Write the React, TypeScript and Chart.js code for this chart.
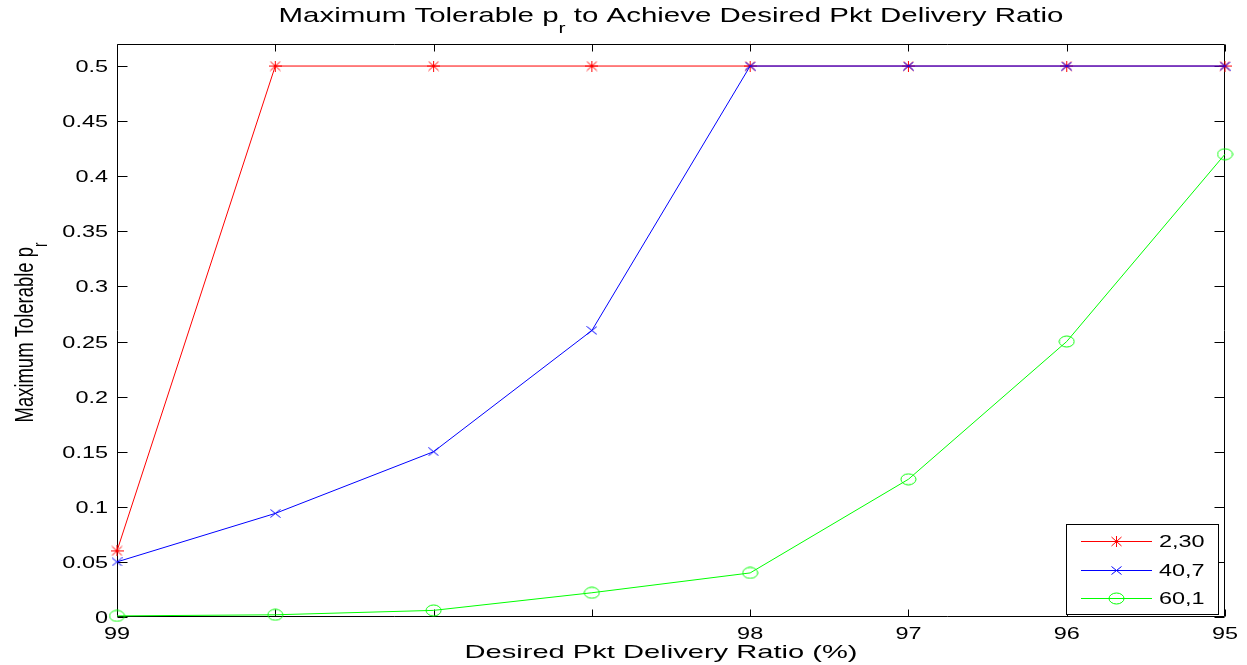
import React, { useEffect, useRef } from 'react';
import { Chart, registerables } from 'chart.js';
Chart.register(...registerables);

// ---- data ----
const xTickLabels = ['99', '', '', '', '98', '97', '96', '95'];
const seriesNames = ['2,30', '40,7', '60,1'];
const series230 = [0.06, 0.5, 0.5, 0.5, 0.5, 0.5, 0.5, 0.5];
const series407 = [0.05, 0.094, 0.15, 0.26, 0.5, 0.5, 0.5, 0.5];
const series601 = [0.001, 0.002, 0.006, 0.022, 0.04, 0.125, 0.25, 0.42];
const yTickValues = [0, 0.05, 0.1, 0.15, 0.2, 0.25, 0.3, 0.35, 0.4, 0.45, 0.5];
const yTickLabels = ['0', '0.05', '0.1', '0.15', '0.2', '0.25', '0.3', '0.35', '0.4', '0.45', '0.5'];
const yMin = 0;
const yMax = 0.52;
const titleMain = 'Maximum Tolerable p';
const titleSub = 'r';
const titleRest = ' to Achieve Desired Pkt Delivery Ratio';
const xTitle = 'Desired Pkt Delivery Ratio (%)';
const yTitleMain = 'Maximum Tolerable p';
const yTitleSub = 'r';

const FONT = '"Liberation Sans", Arial, Helvetica, sans-serif';
const STRETCH = 1.38;

function makeMarker(kind: string, color: string): HTMLCanvasElement {
  const c = document.createElement('canvas');
  const ctx = c.getContext('2d')!;
  if (kind === 'star') {
    c.width = 13; c.height = 11;
    ctx.strokeStyle = color; ctx.lineWidth = 1;
    ctx.beginPath();
    ctx.moveTo(0, 5.5); ctx.lineTo(13, 5.5);
    ctx.moveTo(6.5, 0); ctx.lineTo(6.5, 11);
    ctx.moveTo(1.5, 1); ctx.lineTo(11.5, 10);
    ctx.moveTo(1.5, 10); ctx.lineTo(11.5, 1);
    ctx.stroke();
  } else if (kind === 'x') {
    c.width = 11; c.height = 9;
    ctx.strokeStyle = color; ctx.lineWidth = 1;
    ctx.beginPath();
    ctx.moveTo(0.5, 0.5); ctx.lineTo(10.5, 8.5);
    ctx.moveTo(0.5, 8.5); ctx.lineTo(10.5, 0.5);
    ctx.stroke();
  } else {
    c.width = 17; c.height = 13;
    ctx.strokeStyle = color; ctx.lineWidth = 1;
    ctx.beginPath();
    ctx.ellipse(8.5, 6.5, 7.5, 5.5, 0, 0, Math.PI * 2);
    ctx.stroke();
  }
  return c;
}

type Run = { text: string; size: number; dy: number };

function runsWidth(ctx: CanvasRenderingContext2D, runs: Run[]) {
  let w = 0;
  for (const r of runs) {
    ctx.font = `${r.size}px ${FONT}`;
    w += ctx.measureText(r.text).width;
  }
  return w;
}

function drawRuns(ctx: CanvasRenderingContext2D, runs: Run[], startX: number) {
  let x = startX;
  for (const r of runs) {
    ctx.font = `${r.size}px ${FONT}`;
    ctx.fillText(r.text, x, r.dy);
    x += ctx.measureText(r.text).width;
  }
}

function drawStretched(ctx: CanvasRenderingContext2D, text: string, x: number, y: number, size: number, sx: number, align: CanvasTextAlign) {
  ctx.save();
  ctx.translate(x, y);
  ctx.scale(sx, 1);
  ctx.font = `${size}px ${FONT}`;
  ctx.textAlign = align;
  ctx.textBaseline = 'alphabetic';
  ctx.fillText(text, 0, 0);
  ctx.restore();
}

const matlabPlugin = {
  id: 'matlabAxes',
  beforeDatasetsDraw(chart: any) {
    const ctx: CanvasRenderingContext2D = chart.ctx;
    const a = chart.chartArea;
    const xs = chart.scales.x;
    const ys = chart.scales.y;
    ctx.save();
    ctx.strokeStyle = '#000';
    ctx.lineWidth = 1;
    const L = Math.round(a.left) + 0.5, R = Math.round(a.right) - 0.5;
    const T = Math.round(a.top) + 0.5, B = Math.round(a.bottom) - 0.5;
    ctx.beginPath();
    ctx.rect(L, T, R - L, B - T);
    for (let i = 0; i < xTickLabels.length; i++) {
      const px = Math.round(xs.getPixelForValue(i)) + 0.5;
      ctx.moveTo(px, B); ctx.lineTo(px, B - 7);
      ctx.moveTo(px, T); ctx.lineTo(px, T + 7);
    }
    for (const v of yTickValues) {
      const py = Math.round(ys.getPixelForValue(v)) + 0.5;
      ctx.moveTo(L, py); ctx.lineTo(L + 10, py);
      ctx.moveTo(R, py); ctx.lineTo(R - 10, py);
    }
    ctx.stroke();
    ctx.restore();
  },
  afterDraw(chart: any) {
    const ctx: CanvasRenderingContext2D = chart.ctx;
    const a = chart.chartArea;
    const xs = chart.scales.x;
    const ys = chart.scales.y;
    ctx.save();
    ctx.fillStyle = '#000';
    // x tick labels
    xTickLabels.forEach((lab, i) => {
      if (!lab) return;
      drawStretched(ctx, lab, xs.getPixelForValue(i), a.bottom + 22, 17, STRETCH, 'center');
    });
    // y tick labels
    yTickValues.forEach((v, i) => {
      drawStretched(ctx, yTickLabels[i], a.left - 9, ys.getPixelForValue(v) + 6, 17, STRETCH, 'right');
    });
    // title
    const cx = (a.left + a.right) / 2;
    const tRuns: Run[] = [
      { text: titleMain, size: 21, dy: 0 },
      { text: titleSub, size: 15, dy: 11 },
      { text: titleRest, size: 21, dy: 0 },
    ];
    const tw = runsWidth(ctx, tRuns);
    const tTarget = 785;
    ctx.save();
    ctx.translate(cx - tTarget / 2, 22);
    ctx.scale(tTarget / tw, 1);
    ctx.textAlign = 'left';
    ctx.textBaseline = 'alphabetic';
    drawRuns(ctx, tRuns, 0);
    ctx.restore();
    // x title
    ctx.font = `19px ${FONT}`;
    const xw = ctx.measureText(xTitle).width;
    drawStretched(ctx, xTitle, cx - 10, 658, 19, 393 / xw, 'center');
    // y title
    const yRuns: Run[] = [
      { text: yTitleMain, size: 19, dy: 0 },
      { text: yTitleSub, size: 14, dy: 10 },
    ];
    const yw = runsWidth(ctx, yRuns);
    const yLen = 180;
    const cy = (a.top + a.bottom) / 2 + 2;
    ctx.save();
    ctx.translate(33, cy);
    ctx.rotate(-Math.PI / 2);
    ctx.scale(yLen / yw, 1.4);
    ctx.textAlign = 'left';
    ctx.textBaseline = 'alphabetic';
    drawRuns(ctx, yRuns, -yw / 2);
    ctx.restore();
    // legend
    const bw = 152, bh = 90;
    const bx = Math.round(a.right) - 7 - bw, by = Math.round(a.bottom) - 3 - bh;
    ctx.fillStyle = '#fff';
    ctx.fillRect(bx, by, bw, bh);
    ctx.strokeStyle = '#000';
    ctx.lineWidth = 1;
    ctx.strokeRect(bx + 0.5, by + 0.5, bw, bh);
    chart.data.datasets.forEach((ds: any, i: number) => {
      const ry = by + 17 + i * 28.5;
      const ly = Math.round(ry) + 0.5;
      ctx.strokeStyle = ds.borderColor;
      ctx.beginPath();
      ctx.moveTo(bx + 15, ly); ctx.lineTo(bx + 86, ly);
      ctx.stroke();
      const img = ds.pointStyle as HTMLCanvasElement;
      ctx.drawImage(img, Math.round(bx + 50.5 - img.width / 2), Math.round(ly - img.height / 2));
      ctx.fillStyle = '#000';
      drawStretched(ctx, ds.label, bx + 93, ry + 6, 17, STRETCH, 'left');
    });
    ctx.restore();
  },
};

export default function App() {
  const ref = useRef<HTMLCanvasElement>(null);
  useEffect(() => {
    if (!ref.current) return;
    const star = makeMarker('star', '#ff0000');
    const cross = makeMarker('x', '#0000ff');
    const circ = makeMarker('circle', '#00ff00');
    const chart = new Chart(ref.current, {
      type: 'line',
      data: {
        labels: xTickLabels,
        datasets: [
          { label: seriesNames[0], data: series230, order: 3, borderColor: '#ff0000', borderWidth: 1, pointStyle: star as any, pointRadius: 4, tension: 0, clip: false as any },
          { label: seriesNames[1], data: series407, order: 2, borderColor: '#0000ff', borderWidth: 1, pointStyle: cross as any, pointRadius: 4, tension: 0, clip: false as any },
          { label: seriesNames[2], data: series601, order: 1, borderColor: '#00ff00', borderWidth: 1, pointStyle: circ as any, pointRadius: 4, tension: 0, clip: false as any },
        ],
      },
      options: {
        animation: false,
        responsive: true,
        maintainAspectRatio: false,
        devicePixelRatio: 1,
        events: [],
        layout: { padding: { left: 117, right: 22, top: 44, bottom: 48 } },
        plugins: { legend: { display: false }, title: { display: false }, tooltip: { enabled: false } },
        scales: {
          x: { type: 'category', display: false, offset: false },
          y: { type: 'linear', display: false, min: yMin, max: yMax },
        },
      },
      plugins: [matlabPlugin],
    });
    return () => chart.destroy();
  }, []);
  return (
    <div style={{ position: 'fixed', left: 0, top: 0, width: 1247, height: 665, background: '#fff' }}>
      <canvas ref={ref} />
    </div>
  );
}
